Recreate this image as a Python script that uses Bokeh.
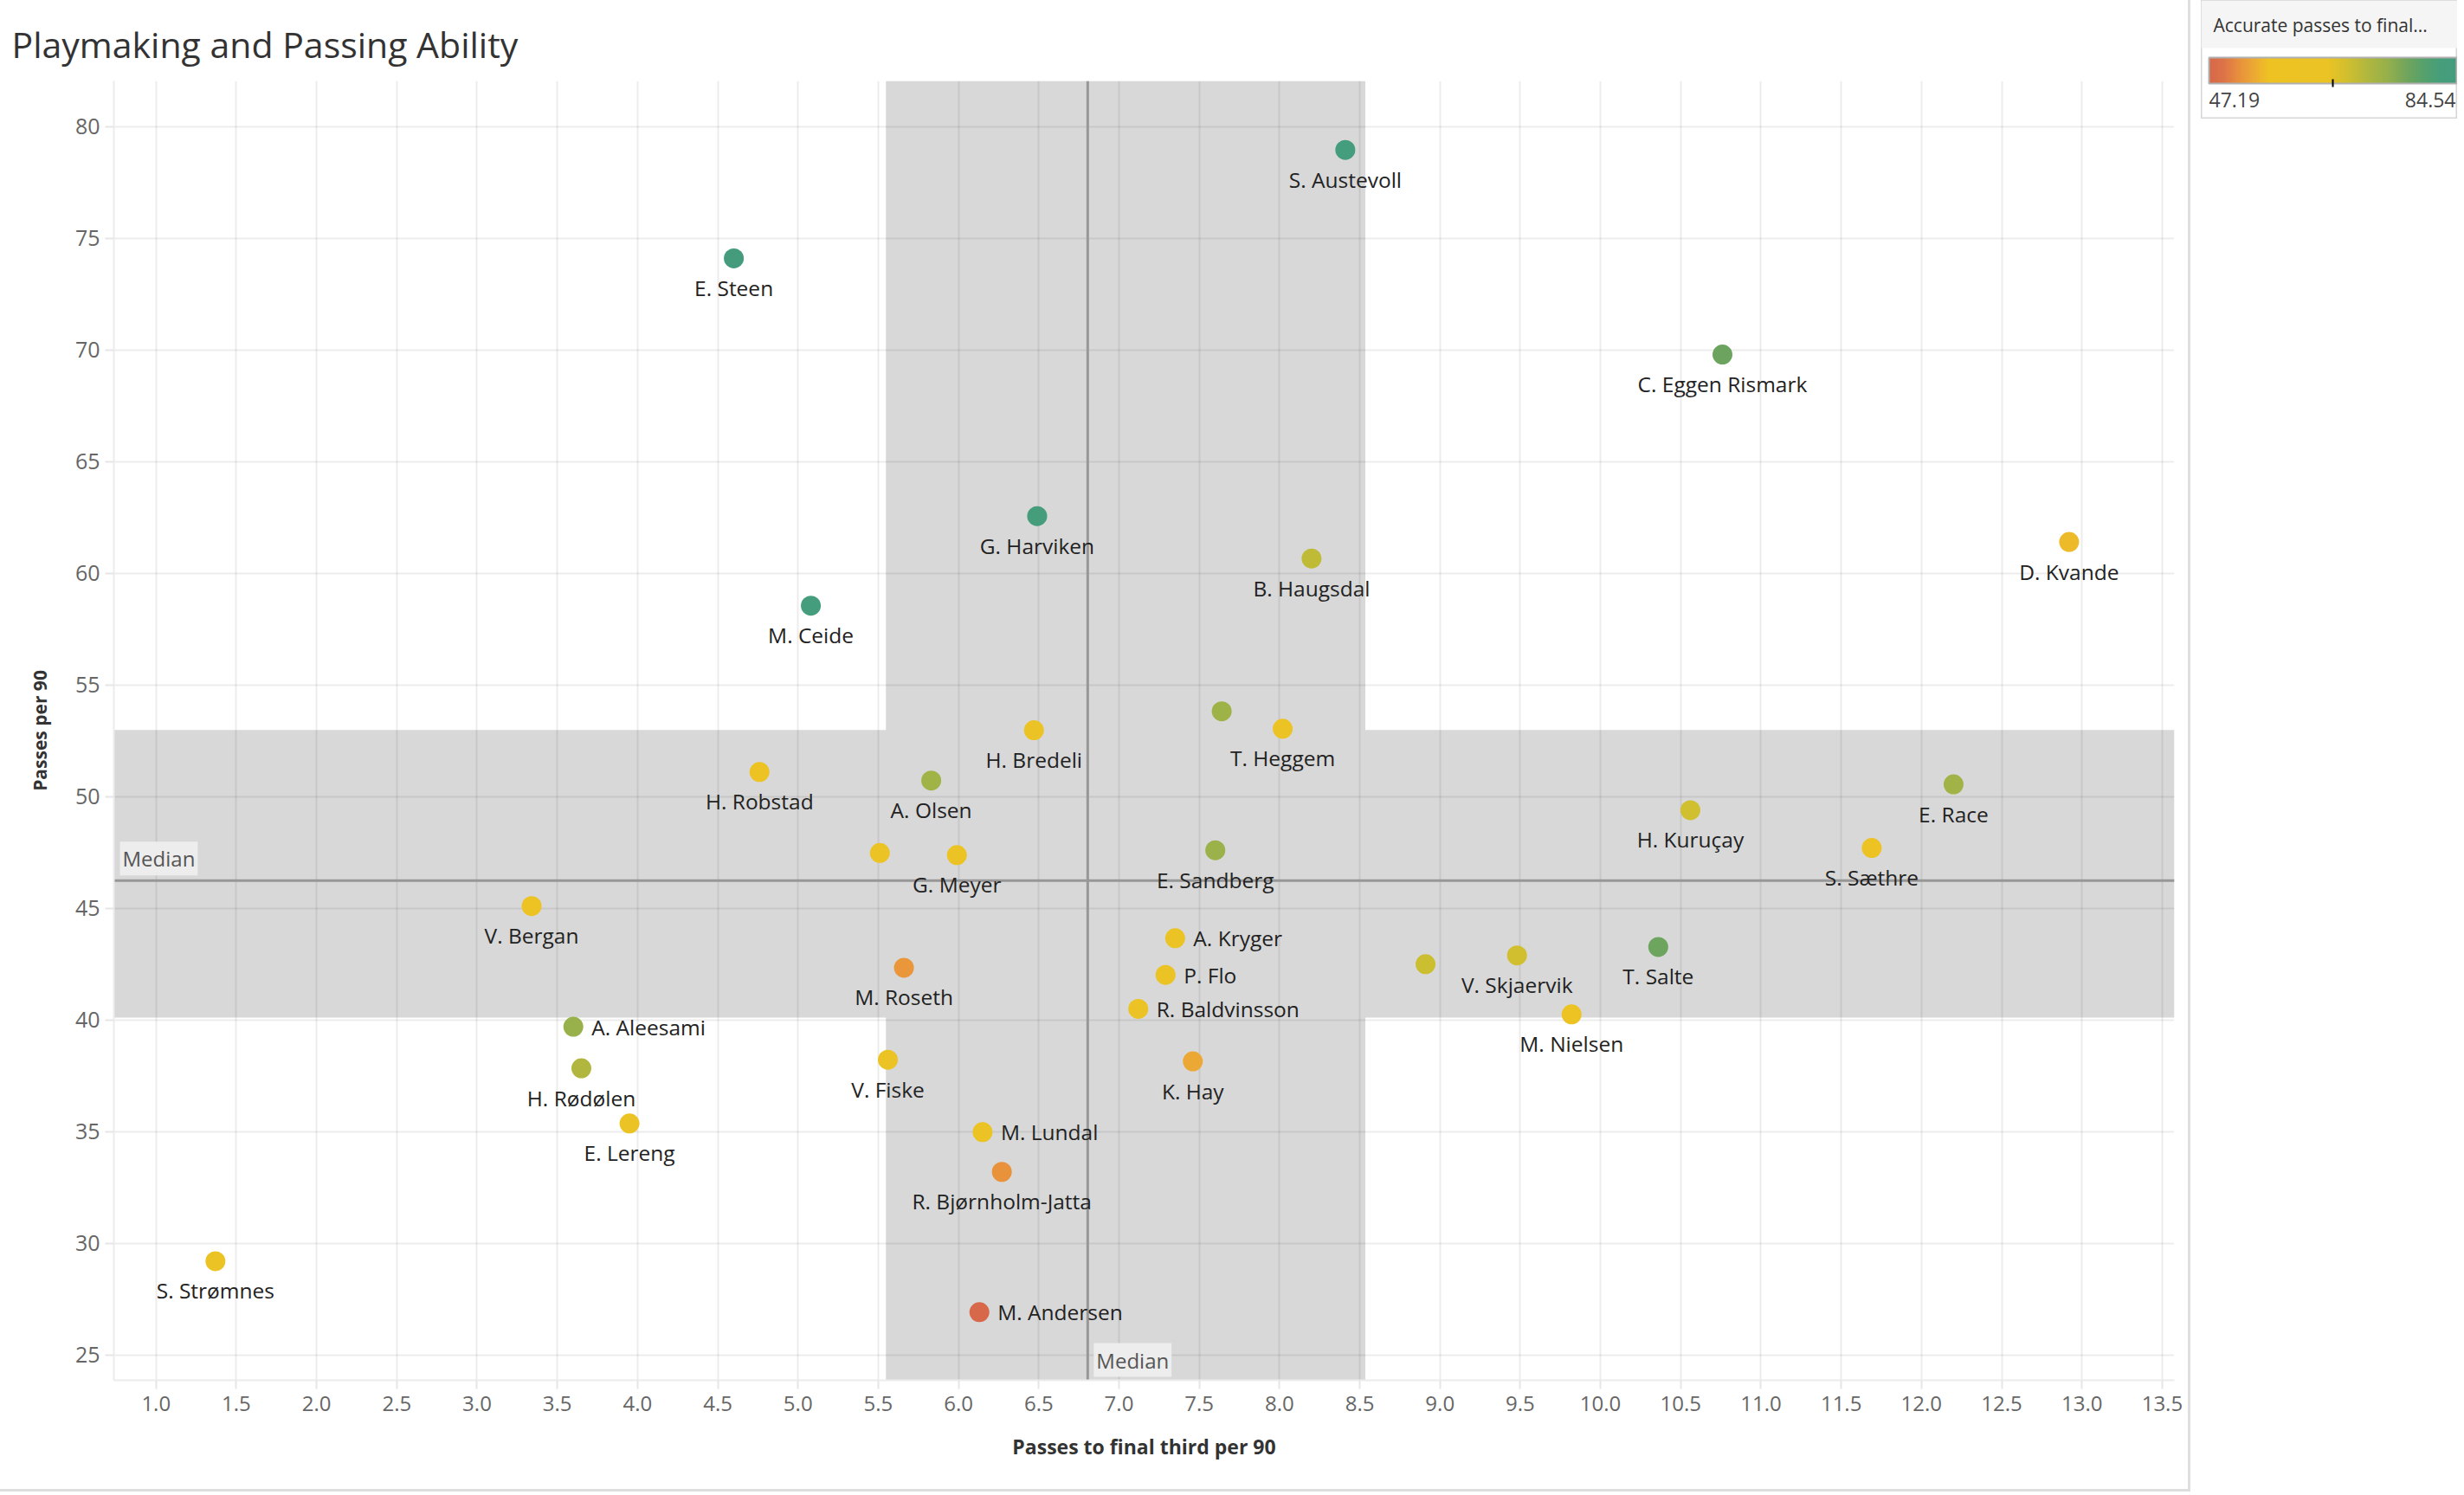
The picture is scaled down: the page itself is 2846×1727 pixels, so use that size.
import numpy as np
from bokeh.plotting import figure
from bokeh.models import (ColumnDataSource, LinearColorMapper, ColorBar, FixedTicker,
                          Label, BoxAnnotation, Span, NumeralTickFormatter, Range1d)
from bokeh.core.properties import value
from bokeh.embed import file_html
from bokeh.resources import INLINE

# ---------------- data ----------------
players = ["S. Austevoll", "E. Steen", "C. Eggen Rismark", "D. Kvande", "G. Harviken",
           "B. Haugsdal", "M. Ceide", "H. Bredeli", "", "T. Heggem", "H. Robstad",
           "A. Olsen", "E. Race", "H. Kuruçay", "S. Sæthre", "E. Sandberg", "",
           "G. Meyer", "V. Bergan", "A. Kryger", "T. Salte", "V. Skjaervik", "",
           "M. Roseth", "P. Flo", "R. Baldvinsson", "M. Nielsen", "A. Aleesami",
           "H. Rødølen", "V. Fiske", "K. Hay", "E. Lereng", "M. Lundal",
           "R. Bjørnholm-Jatta", "S. Strømnes", "M. Andersen"]
passes_final_third_p90 = [8.41, 4.60, 10.76, 12.92, 6.49,
                          8.20, 5.08, 6.47, 7.64, 8.02, 4.76,
                          5.83, 12.20, 10.56, 11.69, 7.60, 5.51,
                          5.99, 3.34, 7.35, 10.36, 9.48, 8.91,
                          5.66, 7.29, 7.12, 9.82, 3.60,
                          3.65, 5.56, 7.46, 3.95, 6.15,
                          6.27, 1.37, 6.13]
passes_p90 = [78.95, 74.10, 69.79, 61.40, 62.56,
              60.66, 58.55, 52.97, 53.82, 53.04, 51.10,
              50.72, 50.55, 49.39, 47.70, 47.60, 47.48,
              47.38, 45.10, 43.66, 43.27, 42.89, 42.50,
              42.34, 42.02, 40.50, 40.25, 39.70,
              37.84, 38.22, 38.15, 35.37, 34.98,
              33.20, 29.20, 26.92]
accurate_final_third_pct = [83.5, 84.54, 77.5, 55.4, 82.9,
                            69.8, 83.8, 61.5, 73.2, 61.0, 60.5,
                            73.0, 72.8, 68.1, 58.5, 73.5, 61.0,
                            62.0, 60.5, 61.0, 77.3, 68.0, 68.5,
                            52.4, 61.5, 61.0, 60.0, 73.8,
                            71.1, 61.0, 53.9, 61.5, 62.0,
                            52.0, 61.0, 47.19]
right_labelled = ["A. Kryger", "P. Flo", "R. Baldvinsson", "A. Aleesami", "M. Lundal", "M. Andersen"]

x_ticks = [1.0, 1.5, 2.0, 2.5, 3.0, 3.5, 4.0, 4.5, 5.0, 5.5, 6.0, 6.5, 7.0,
           7.5, 8.0, 8.5, 9.0, 9.5, 10.0, 10.5, 11.0, 11.5, 12.0, 12.5, 13.0, 13.5]
y_ticks = [25, 30, 35, 40, 45, 50, 55, 60, 65, 70, 75, 80]

# ---------------- colour scale ----------------
stops = [(0.00, "#d7684a"), (0.06, "#dd7448"), (0.12, "#e8903c"), (0.18, "#eca934"),
         (0.24, "#eec223"), (0.48, "#ebc324"), (0.56, "#d0bf2f"), (0.64, "#b1b73e"),
         (0.72, "#96b04b"), (0.80, "#70a55d"), (0.88, "#52a06e"), (0.94, "#459e7b"),
         (1.00, "#449c7d")]


def hex2rgb(h):
    return [int(h[i:i + 2], 16) for i in (1, 3, 5)]


palette = []
pos = [s[0] for s in stops]
rgbs = np.array([hex2rgb(s[1]) for s in stops], dtype=float)
for t in np.linspace(0, 1, 256):
    r = np.interp(t, pos, rgbs[:, 0]); g = np.interp(t, pos, rgbs[:, 1]); b = np.interp(t, pos, rgbs[:, 2])
    palette.append("#%02x%02x%02x" % (int(round(r)), int(round(g)), int(round(b))))

low, high = min(accurate_final_third_pct), max(accurate_final_third_pct)
mapper = LinearColorMapper(palette=palette, low=low, high=high)

xs = np.array(passes_final_third_p90)
ys = np.array(passes_p90)
med_x, med_y = float(np.median(xs)), float(np.median(ys))
q1x, q3x = [float(v) for v in np.percentile(xs, [25, 75])]
q1y, q3y = [float(v) for v in np.percentile(ys, [25, 75])]

src = ColumnDataSource(dict(x=passes_final_third_p90, y=passes_p90,
                            acc=accurate_final_third_pct, name=players))
below = [i for i, n in enumerate(players) if n and n not in right_labelled]
right = [i for i, n in enumerate(players) if n in right_labelled]
below_src = ColumnDataSource(dict(x=[xs[i] for i in below], y=[ys[i] for i in below],
                                  name=[players[i] for i in below]))
right_src = ColumnDataSource(dict(x=[xs[i] for i in right], y=[ys[i] for i in right],
                                  name=[players[i] for i in right]))

FONT = "Open Sans"

# ---------------- main figure ----------------
p = figure(frame_width=2380, frame_height=1501,
           min_border_left=131, min_border_right=16, min_border_top=93, min_border_bottom=126,
           x_range=Range1d(0.737, 13.576), y_range=Range1d(23.87, 82.04),
           toolbar_location=None, output_backend="svg",
           title="Playmaking and Passing Ability",
           background_fill_color="white", border_fill_color="white",
           outline_line_color=None)
p.styles = {"border-right": "3px solid #dedede", "border-bottom": "3px solid #dedede"}

p.title.text_font = FONT
p.title.text_font_size = "41px"
p.title.text_font_style = "normal"
p.title.text_color = "#333333"
p.title.align = "left"
p.title.offset = -118
p.title.standoff = 29

# bands (under grid)
p.add_layout(BoxAnnotation(left=q1x, right=q3x, fill_color="#d8d8d8", fill_alpha=1.0,
                           line_color=None, level="image"))
p.add_layout(BoxAnnotation(bottom=q1y, top=q3y, fill_color="#d8d8d8", fill_alpha=1.0,
                           line_color=None, level="image"))

# grid
p.xgrid.ticker = FixedTicker(ticks=x_ticks)
p.ygrid.ticker = FixedTicker(ticks=y_ticks)
for g in (p.xgrid, p.ygrid):
    g.grid_line_color = "#000000"
    g.grid_line_alpha = 0.075
    g.grid_line_width = 2

# median lines
p.add_layout(Span(location=med_x, dimension="height", line_color="#979797", line_width=3, level="underlay"))
p.add_layout(Span(location=med_y, dimension="width", line_color="#979797", line_width=3, level="underlay"))

# axes
p.xaxis.ticker = FixedTicker(ticks=x_ticks)
p.xaxis.formatter = NumeralTickFormatter(format="0.0")
p.yaxis.ticker = FixedTicker(ticks=y_ticks)
p.xaxis.axis_label = "Passes to final third per 90"
p.yaxis.axis_label = "Passes per 90"
for ax in (p.xaxis, p.yaxis):
    ax.axis_line_color = "#ececec"
    ax.axis_line_width = 2
    ax.major_tick_line_color = "#e6e6e6"
    ax.major_tick_line_width = 2
    ax.major_tick_out = 10
    ax.major_tick_in = 0
    ax.minor_tick_line_color = None
    ax.major_label_text_font = FONT
    ax.major_label_text_color = "#666666"
    ax.axis_label_text_font = FONT
    ax.axis_label_text_font_style = "bold"
    ax.axis_label_text_color = "#333333"
p.xaxis.major_label_text_font_size = "24px"
p.yaxis.major_label_text_font_size = "25px"
p.xaxis.axis_label_text_font_size = "23px"
p.yaxis.axis_label_text_font_size = "21px"
p.xaxis.major_label_standoff = 8
p.xaxis.axis_label_standoff = 22
p.yaxis.major_label_standoff = 6
p.yaxis.axis_label_standoff = 24

# points
p.scatter("x", "y", source=src, size=23, line_color=None,
          fill_color={"field": "acc", "transform": mapper})

# labels
p.text(x="x", y="y", text="name", source=below_src, text_align="center", text_baseline="middle",
       y_offset=34, text_font=value(FONT), text_font_size="24.5px", text_color="#222222")
p.text(x="x", y="y", text="name", source=right_src, text_align="left", text_baseline="middle",
       x_offset=21, text_font=value(FONT), text_font_size="24.5px", text_color="#222222")

# median labels
p.add_layout(Label(x=med_x, y=p.y_range.start, x_offset=7, y_offset=4, text="Median",
                   text_font=FONT, text_font_size="24px", text_color="#555555",
                   text_baseline="bottom", background_fill_color="#eeeeee",
                   background_fill_alpha=0.95, padding=3))
p.add_layout(Label(x=p.x_range.start, y=med_y, x_offset=7, y_offset=6, text="Median",
                   text_font=FONT, text_font_size="24px", text_color="#555555",
                   text_baseline="bottom", background_fill_color="#eeeeee",
                   background_fill_alpha=0.95, padding=3))

# ---------------- legend figure (separate root, placed top-right) ----------------
LW, LH = 296, 137
leg = figure(frame_width=LW, frame_height=LH, x_range=Range1d(0, LW), y_range=Range1d(0, LH),
             toolbar_location=None, output_backend="svg", min_border=0, title=None,
             x_axis_location=None, y_axis_location=None,
             outline_line_color="#d6d6d6", outline_line_width=2,
             background_fill_color="white", border_fill_color="white")
leg.styles = {"position": "absolute", "left": "2542px", "top": "0px"}
leg.grid.visible = False
leg.add_layout(BoxAnnotation(bottom=LH - 55, top=LH, fill_color="#f5f5f5", fill_alpha=1.0,
                             line_color=None, level="image"))
cb = ColorBar(color_mapper=mapper, orientation="horizontal", location=(9, LH - 96),
              width=286, height=30, padding=0, title=None,
              ticker=FixedTicker(ticks=[]), major_tick_line_color=None,
              bar_line_color="#b0b0b0", bar_line_width=2,
              background_fill_alpha=0, border_line_color=None)
leg.add_layout(cb, "center")
mid_px = 9 + 286 / 2
leg.add_layout(BoxAnnotation(left=mid_px - 1, right=mid_px + 1, bottom=LH - 100, top=LH - 91,
                             fill_color="black", fill_alpha=1.0, line_color=None))
leg.add_layout(Label(x=14, y=LH - 28, text="Accurate passes to final...", text_font=FONT,
                     text_font_size="21px", text_color="#333333", text_baseline="middle"))
leg.add_layout(Label(x=9, y=LH - 115, text="%.2f" % low, text_font=FONT, text_font_size="23px",
                     text_color="#444444", text_align="left", text_baseline="middle"))
leg.add_layout(Label(x=LW - 2, y=LH - 115, text="%.2f" % high, text_font=FONT, text_font_size="23px",
                     text_color="#444444", text_align="right", text_baseline="middle"))

with open("out.html", "w") as f:
    f.write(file_html([p, leg], INLINE))
